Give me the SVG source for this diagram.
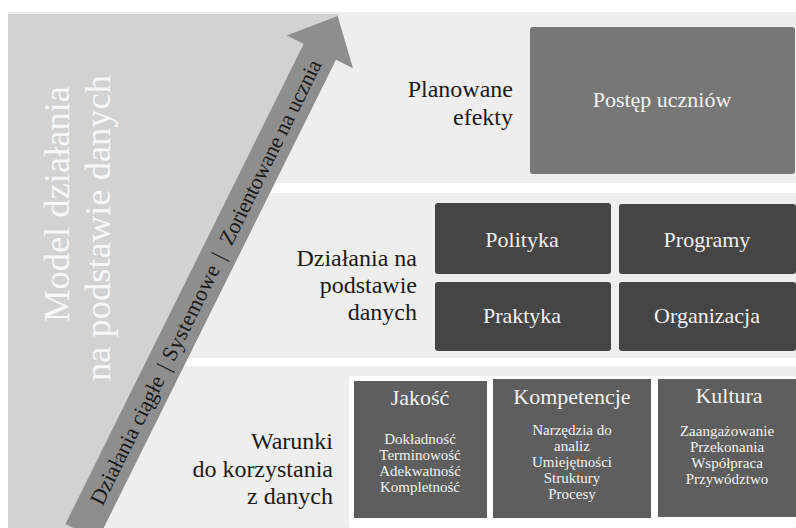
<svg xmlns="http://www.w3.org/2000/svg" width="796" height="528" viewBox="0 0 796 528" font-family="'Liberation Serif', 'Times New Roman', 'DejaVu Serif', serif">
<style>
text{font-family:'Liberation Serif','Times New Roman','DejaVu Serif',serif}
.band{fill:#eeeeee}
.lbl{font-size:24px;fill:#1a1a1a;text-anchor:end}
.bx{fill:#f2f2f2;text-anchor:middle}
.t22{font-size:22px}
.t15{font-size:15px}
.dark{fill:#454545}
.mid{fill:#5e5e5e}
.arrtxt{font-size:22px;fill:#1a1a1a}
.big{font-size:36.5px;fill:#f7f7f7;text-anchor:middle}
</style>
<rect width="796" height="528" fill="#ffffff"/>
<g id="bands">
<rect class="band" x="8" y="12" width="788" height="171"/>
<rect class="band" x="8" y="193" width="788" height="165"/>
<rect class="band" x="8" y="366" width="788" height="162"/>
</g>
<g id="model">
<polygon points="8,14 339,14 84,528 8,528" fill="#d2d2d2"/>
<text class="big" font-family="Liberation Serif, serif" transform="translate(69,204) rotate(-90)">Model działania</text>
<text class="big" font-family="Liberation Serif, serif" transform="translate(110,228) rotate(-90)">na podstawie danych</text>
</g>
<g id="connectors">
<g id="arrow" transform="translate(86,523) rotate(-63.6)">
<rect x="-10" y="-18" width="538" height="36" fill="#8e8e8e"/>
<polygon points="526,-37 566,0 526,37" fill="#8e8e8e"/>
<text class="arrtxt" x="22" y="7.5" textLength="141">Działania ciągłe</text>
<text class="arrtxt" x="172" y="7.5">|</text>
<text class="arrtxt" x="183" y="7.5" textLength="104">Systemowe</text>
<text class="arrtxt" x="296" y="7.5">|</text>
<text class="arrtxt" x="312" y="7.5" textLength="204">Zorientowane na ucznia</text>
</g>
</g>
<g id="label-planowane">
<text class="lbl"><tspan x="513" y="97">Planowane</tspan><tspan x="513" y="125">efekty</tspan></text>
</g>
<g id="label-dzialania">
<text class="lbl"><tspan x="417" y="266">Działania na</tspan><tspan x="417" y="293">podstawie</tspan><tspan x="417" y="320">danych</tspan></text>
</g>
<g id="label-warunki">
<text class="lbl"><tspan x="333" y="449">Warunki</tspan><tspan x="333" y="477">do korzystania</tspan><tspan x="333" y="504">z danych</tspan></text>
</g>
<g id="postep">
<rect x="530" y="27" width="265" height="147" rx="3" fill="#777777"/>
<text class="bx t22" x="662" y="107">Postęp uczniów</text>
</g>
<g id="polityka">
<rect class="dark" x="435" y="203" width="176" height="71" rx="3"/>
<text class="bx t22" x="522" y="247">Polityka</text>
</g>
<g id="programy">
<rect class="dark" x="619" y="204" width="177" height="70" rx="3"/>
<text class="bx t22" x="707" y="247">Programy</text>
</g>
<g id="praktyka">
<rect class="dark" x="435" y="282" width="176" height="69" rx="3"/>
<text class="bx t22" x="522" y="323">Praktyka</text>
</g>
<g id="organizacja">
<rect class="dark" x="619" y="282" width="177" height="69" rx="3"/>
<text class="bx t22" x="707" y="323">Organizacja</text>
</g>
<rect x="349" y="376" width="447" height="152" rx="3" fill="#ffffff"/>
<g id="jakosc">
<rect class="mid" x="354" y="381" width="133" height="137"/>
<text class="bx t22" x="420" y="405">Jakość</text>
<text class="bx t15"><tspan x="420" y="444">Dokładność</tspan><tspan x="420" y="460">Terminowość</tspan><tspan x="420" y="476">Adekwatność</tspan><tspan x="420" y="492">Kompletność</tspan></text>
</g>
<g id="kompetencje">
<rect class="mid" x="493" y="379" width="158" height="139"/>
<text class="bx t22" x="572" y="404">Kompetencje</text>
<text class="bx t15"><tspan x="572" y="435">Narzędzia do</tspan><tspan x="572" y="451">analiz</tspan><tspan x="572" y="467">Umiejętności</tspan><tspan x="572" y="483">Struktury</tspan><tspan x="572" y="499">Procesy</tspan></text>
</g>
<g id="kultura">
<rect class="mid" x="658" y="379" width="138" height="138"/>
<text class="bx t22" x="729" y="403">Kultura</text>
<text class="bx t15"><tspan x="727" y="436">Zaangażowanie</tspan><tspan x="727" y="452">Przekonania</tspan><tspan x="727" y="468">Współpraca</tspan><tspan x="727" y="484">Przywództwo</tspan></text>
</g>
</svg>
